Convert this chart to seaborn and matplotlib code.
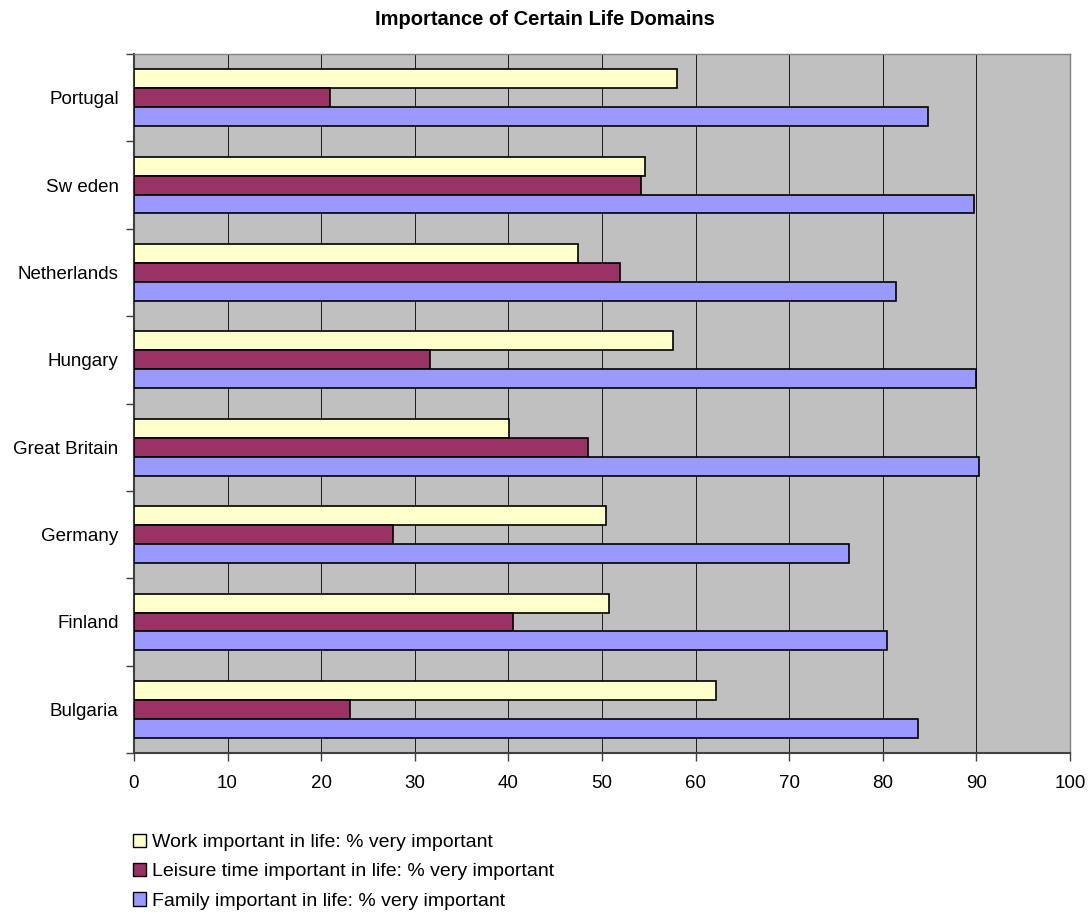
import numpy as np
import pandas as pd
import matplotlib
matplotlib.use("Agg")
import matplotlib.pyplot as plt
from matplotlib.patches import Patch
import seaborn as sns

# countries, top to bottom as shown
countries = ["Portugal", "Sw eden", "Netherlands", "Hungary", "Great Britain", "Germany", "Finland", "Bulgaria"]
series = ["Work important in life: % very important",
          "Leisure time important in life: % very important",
          "Family important in life: % very important"]
work = [58.0, 54.6, 47.4, 57.6, 40.1, 50.4, 50.8, 62.2]
leisure = [20.9, 54.2, 51.9, 31.6, 48.5, 27.7, 40.5, 23.1]
family = [84.8, 89.7, 81.4, 90.0, 90.3, 76.4, 80.4, 83.8]
xticks = list(range(0, 101, 10))

colors = ["#FFFFCC", "#993366", "#9999FF"]

# long-form table for seaborn
rows = []
for s, vals in zip(series, [work, leisure, family]):
    for c, v in zip(countries, vals):
        rows.append({"Country": c, "Series": s, "Value": v})
data = pd.DataFrame(rows)

sns.set_style("white")
plt.rcParams["font.family"] = ["Liberation Sans", "DejaVu Sans"]
plt.rcParams["text.color"] = "black"
plt.rcParams["xtick.color"] = "black"
plt.rcParams["ytick.color"] = "black"

fig = plt.figure(figsize=(10.89, 9.19), dpi=100)
ax = fig.add_axes([0.1230, 0.1806, 0.8596, 0.7606])
ax.set_facecolor("#C0C0C0")

sns.barplot(data=data, x="Value", y="Country", hue="Series", order=countries,
            hue_order=series, palette=colors, orient="h", width=0.65,
            edgecolor="black", linewidth=1.2, saturation=1, ax=ax, legend=False,
            zorder=3)

ax.set_xlim(0, 100)
ax.set_ylim(len(countries) - 0.5, -0.5)
ax.set_xticks(xticks)
ax.set_xticklabels([str(t) for t in xticks], fontsize=13.5)
ax.set_yticks(range(len(countries)))
ax.set_yticklabels(countries, fontsize=13.5)
ax.set_yticks(np.arange(-0.5, len(countries), 1.0), minor=True)
ax.tick_params(axis="y", which="major", length=0, pad=11, left=True)
ax.tick_params(axis="y", which="minor", length=6, direction="out", color="#404040", width=1, left=True)
ax.tick_params(axis="x", which="major", length=6, direction="out", color="#404040", width=1, pad=10, bottom=True)
ax.set_xlabel("")
ax.set_ylabel("")

ax.grid(axis="x", color="black", linewidth=0.6, zorder=1)
ax.set_axisbelow(True)
for side in ["top", "right"]:
    ax.spines[side].set_color("#808080")
    ax.spines[side].set_linewidth(1)
for side in ["left", "bottom"]:
    ax.spines[side].set_color("#404040")
    ax.spines[side].set_linewidth(1.5)

fig.suptitle("Importance of Certain Life Domains", fontsize=14.5, fontweight="bold", y=0.989)

handles = [Patch(facecolor=c, edgecolor="black", linewidth=1) for c in colors]
fig.legend(handles, series, loc="upper left", bbox_to_anchor=(0.122, 0.093),
           frameon=False, fontsize=14, handlelength=0.7, handleheight=0.7,
           handletextpad=0.3, labelspacing=0.6, borderaxespad=0, borderpad=0)

fig.savefig("out.png", dpi=100)
